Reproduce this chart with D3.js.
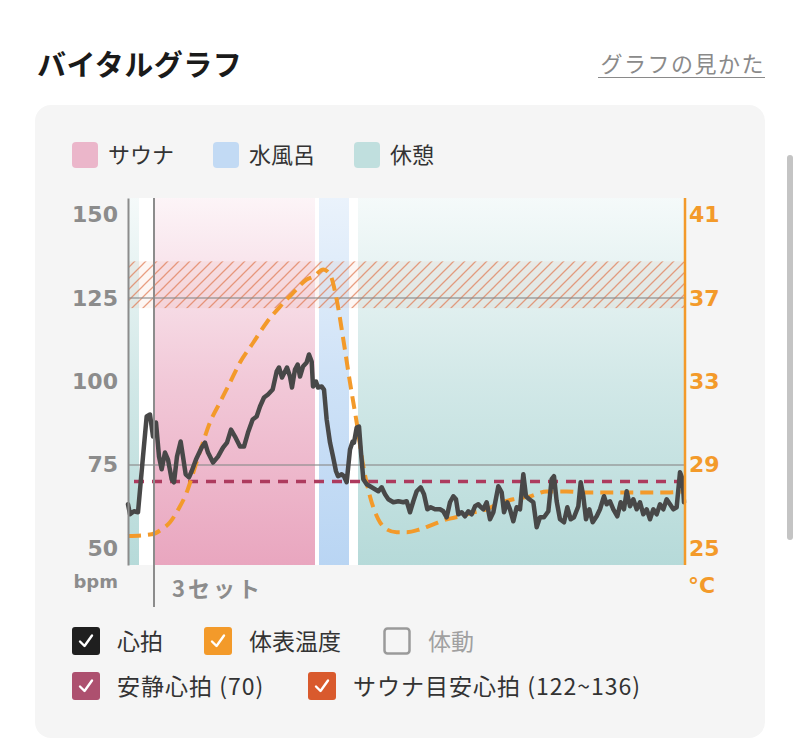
<!DOCTYPE html>
<html>
<head>
<meta charset="utf-8">
<script src="https://cdn.jsdelivr.net/npm/d3@7"></script>
<style>
  html, body { margin: 0; padding: 0; background: #fff; }
  svg text { font-family: "Noto Sans CJK JP", "Noto Sans", sans-serif; }
  svg text.num { font-family: "DejaVu Sans", sans-serif; }
</style>
</head>
<body>
<div id="chart"></div>
<script>
// phases (seconds from start)
var phaseNames = ['休憩', 'サウナ', '水風呂', '休憩'];
var phaseKeys = ['rest', 'sauna', 'water', 'rest'];
var phaseStart = [0, 78, 573, 690];
var phaseEnd = [33, 561, 663, 1671];
var setStart = 78;

// heart rate (bpm)
var hrTime = [0, 6, 18, 30, 45, 56, 66, 75, 84, 93, 101, 111, 120, 131, 138, 147, 158, 165, 173, 183,
  191, 204, 221, 231, 240, 255, 270, 285, 297, 309, 321, 336, 348, 360, 374, 386, 396, 408, 420, 434,
  446, 453, 462, 471, 477, 486, 492, 501, 509, 516, 525, 536, 543, 551, 555, 564, 570, 581, 588, 596,
  606, 615, 624, 630, 641, 648, 656, 666, 674, 678, 686, 693, 699, 706, 716, 731, 741, 751, 761, 771,
  781, 796, 811, 826, 836, 846, 856, 866, 878, 888, 898, 908, 921, 936, 946, 956, 966, 976, 984, 991,
  1001, 1011, 1021, 1031, 1041, 1051, 1056, 1066, 1076, 1086, 1096, 1111, 1121, 1128, 1138, 1146, 1156, 1166, 1176, 1186,
  1194, 1204, 1216, 1226, 1236, 1248, 1261, 1271, 1278, 1286, 1296, 1308, 1318, 1328, 1338, 1351, 1358, 1366, 1374, 1384,
  1394, 1406, 1416, 1428, 1436, 1446, 1456, 1468, 1478, 1488, 1496, 1506, 1516, 1526, 1536, 1546, 1556, 1566, 1576, 1586,
  1596, 1606, 1616, 1626, 1636, 1646, 1656, 1664, 1668];
var hrBpm = [63.2, 60.2, 61.1, 60.8, 77.5, 89.5, 90.1, 83.5, 87.7, 77.5, 73.7, 78.7, 76.6, 70.7, 69.8, 77.5, 82.0, 77.5, 72.2, 71.3,
  73.1, 76.6, 80.2, 81.7, 78.7, 75.7, 77.5, 80.2, 81.7, 85.6, 83.5, 80.5, 80.5, 84.7, 88.6, 89.5, 92.5, 95.2, 96.1, 97.6,
  103.0, 104.2, 101.2, 103.0, 104.2, 101.5, 98.2, 103.6, 105.1, 101.5, 104.5, 105.7, 108.1, 106.0, 98.5, 100.0, 98.2, 98.5, 97.6, 88.6,
  81.7, 77.5, 73.1, 71.6, 72.2, 71.6, 69.8, 79.6, 82.0, 81.7, 86.2, 86.5, 78.7, 70.7, 69.2, 68.3, 67.7, 67.1, 68.3, 66.2,
  64.7, 63.8, 64.1, 63.8, 64.1, 60.8, 64.1, 67.1, 68.3, 66.2, 61.7, 62.3, 61.7, 61.7, 61.1, 59.3, 63.8, 65.6, 64.7, 60.2,
  60.8, 59.6, 61.1, 60.2, 62.6, 63.2, 62.6, 61.7, 63.8, 58.7, 60.8, 68.6, 66.8, 60.8, 63.8, 61.7, 58.1, 62.3, 61.7, 72.2,
  65.6, 64.7, 63.8, 56.3, 59.3, 59.3, 61.1, 70.7, 71.6, 64.1, 58.7, 57.8, 62.3, 58.7, 59.3, 62.6, 69.8, 65.6, 58.7, 61.7,
  57.8, 59.6, 61.7, 65.6, 63.2, 64.1, 61.7, 59.6, 63.8, 61.7, 67.1, 62.6, 64.7, 61.7, 63.8, 60.2, 61.7, 58.7, 61.7, 60.2,
  63.2, 61.7, 64.7, 63.2, 61.7, 62.3, 72.8, 70.7, 63.8];

// skin temperature (°C)
var tempTime = [0, 71, 101, 126, 151, 176, 196, 221, 246, 276, 306, 336, 376, 416, 456, 496, 536, 556, 586, 606,
  626, 646, 666, 686, 706, 726, 751, 776, 806, 836, 876, 916, 956, 996, 1036, 1076, 1106, 1156, 1206, 1256,
  1316, 1376, 1436, 1496, 1556, 1616, 1668];
var tempVal = [25.59, 25.67, 25.91, 26.25, 26.87, 27.68, 28.64, 29.89, 31.04, 32.0, 32.95, 33.91, 34.87, 35.83, 36.59, 37.26, 37.89, 38.03, 38.37, 38.13,
  36.93, 35.01, 32.95, 31.04, 28.93, 27.49, 26.39, 25.91, 25.77, 25.77, 25.91, 26.15, 26.39, 26.53, 26.72, 26.87, 27.11, 27.35, 27.49, 27.73,
  27.73, 27.68, 27.68, 27.68, 27.68, 27.68, 27.73];

var restingHr = 70;
var targetLow = 122, targetHigh = 136;
var hrTicks = [50, 75, 100, 125, 150];
var hrGrid = [75, 125];
var tempTicks = [25, 29, 33, 37, 41];

var phaseLegend = ['サウナ', '水風呂', '休憩'];
var seriesLegend1 = ['心拍', '体表温度', '体動'];
var seriesLegend2 = ['安静心拍 (70)', 'サウナ目安心拍 (122~136)'];

var colors = {
  sauna: '#e9a6bf', water: '#b9d5f3', rest: '#b6dad9',
  hr: '#484848', temp: '#f39a2a', resting: '#ad3b5e', target: '#e07a52',
  axis: '#8c8c8c'
};
var fadeTop = { sauna: 0.12, water: 0.3, rest: 0.14 };

var W = 800, H = 755;
var svg = d3.select('#chart').append('svg')
  .attr('width', W).attr('height', H);

var defs = svg.append('defs');

// header
svg.append('text').attr('x', 37).attr('y', 76)
  .attr('font-size', 29).attr('font-weight', 700).attr('fill', '#1a1a1a')
  .attr('letter-spacing', 0.5)
  .text('バイタルグラフ');
svg.append('text').attr('x', 765).attr('y', 72).attr('text-anchor', 'end')
  .attr('font-size', 22).attr('fill', '#8a8a8a').attr('letter-spacing', 1.5)
  .text('グラフの見かた');
svg.append('line').attr('x1', 598).attr('x2', 765).attr('y1', 77.5).attr('y2', 77.5)
  .attr('stroke', '#8a8a8a').attr('stroke-width', 1.2);

// card
svg.append('rect').attr('x', 35).attr('y', 105).attr('width', 730).attr('height', 633)
  .attr('rx', 16).attr('fill', '#f5f5f5');

// scrollbar
svg.append('rect').attr('x', 787).attr('y', 155).attr('width', 6).attr('height', 385)
  .attr('rx', 3).attr('fill', '#c4c4c4');

// phase legend
var pl = svg.append('g');
phaseLegend.forEach(function(name, i) {
  var key = ['sauna', 'water', 'rest'][i];
  var gx = 72 + i * 141;
  pl.append('rect').attr('x', gx).attr('y', 142).attr('width', 26).attr('height', 26)
    .attr('rx', 4).attr('fill', colors[key]).attr('opacity', key === 'sauna' ? 0.8 : 0.85);
  pl.append('text').attr('x', gx + 36).attr('y', 163)
    .attr('font-size', 22).attr('fill', '#333').text(name);
});

// scales
var x = d3.scaleLinear().domain([0, 1671]).range([128, 685]);
var yHr = d3.scaleLinear().domain([45, 155]).range([565, 198]);
var yT = d3.scaleLinear().domain([25, 41]).range([yHr(50), yHr(150)]);

// plot background
svg.append('rect').attr('x', x(0)).attr('y', yHr(155))
  .attr('width', x(1671) - x(0)).attr('height', yHr(45) - yHr(155))
  .attr('fill', '#ffffff');

// gradients for phases
['sauna', 'water', 'rest'].forEach(function(k) {
  var g = defs.append('linearGradient').attr('id', 'grad-' + k)
    .attr('gradientUnits', 'userSpaceOnUse')
    .attr('x1', 0).attr('x2', 0).attr('y1', yHr(45)).attr('y2', yHr(155));
  g.append('stop').attr('offset', 0).attr('stop-color', colors[k]).attr('stop-opacity', 1);
  g.append('stop').attr('offset', 0.5).attr('stop-color', colors[k]).attr('stop-opacity', (1 + fadeTop[k]) / 2 + 0.05);
  g.append('stop').attr('offset', 1).attr('stop-color', colors[k]).attr('stop-opacity', fadeTop[k]);
});

svg.append('g').selectAll('rect')
  .data(phaseKeys)
  .enter().append('rect')
  .attr('x', function(d, i) { return x(phaseStart[i]); })
  .attr('width', function(d, i) { return x(phaseEnd[i]) - x(phaseStart[i]); })
  .attr('y', yHr(155))
  .attr('height', yHr(45) - yHr(155))
  .attr('fill', function(d) { return 'url(#grad-' + d + ')'; });

// target zone hatch
var pat = defs.append('pattern').attr('id', 'hatch')
  .attr('patternUnits', 'userSpaceOnUse').attr('width', 11).attr('height', 11);
pat.append('path').attr('d', 'M-1,12 L12,-1 M-3,3 L3,-3 M8,14 L14,8')
  .attr('stroke', colors.target).attr('stroke-width', 1.3).attr('stroke-opacity', 0.7);
svg.append('rect').attr('x', x(0)).attr('width', x(1671) - x(0))
  .attr('y', yHr(targetHigh)).attr('height', yHr(targetLow) - yHr(targetHigh))
  .attr('fill', colors.target).attr('fill-opacity', 0.07);
svg.append('rect').attr('x', x(0)).attr('width', x(1671) - x(0))
  .attr('y', yHr(targetHigh)).attr('height', yHr(targetLow) - yHr(targetHigh))
  .attr('fill', 'url(#hatch)');

// grid lines
svg.append('g').selectAll('line').data(hrGrid).enter().append('line')
  .attr('x1', x(0)).attr('x2', x(1671))
  .attr('y1', function(d) { return yHr(d); }).attr('y2', function(d) { return yHr(d); })
  .attr('stroke', '#8f8f8f').attr('stroke-width', 1.5).attr('stroke-opacity', 0.8);

// resting hr
svg.append('line').attr('x1', x(0) + 6).attr('x2', x(1671))
  .attr('y1', yHr(restingHr)).attr('y2', yHr(restingHr))
  .attr('stroke', colors.resting).attr('stroke-width', 3.5).attr('stroke-dasharray', '10,8');

// temperature line
var tempData = tempTime.map(function(t, i) { return { t: t, v: tempVal[i] }; });
svg.append('path').datum(tempData)
  .attr('fill', 'none').attr('stroke', colors.temp).attr('stroke-width', 4)
  .attr('stroke-dasharray', '13,7')
  .attr('d', d3.line().curve(d3.curveMonotoneX)
    .x(function(d) { return x(d.t); }).y(function(d) { return yT(d.v); }));

// heart rate line
var hrData = hrTime.map(function(t, i) { return { t: t, v: hrBpm[i] }; });
svg.append('path').datum(hrData)
  .attr('fill', 'none').attr('stroke', colors.hr).attr('stroke-width', 4.5)
  .attr('stroke-linejoin', 'round').attr('stroke-linecap', 'round')
  .attr('d', d3.line()
    .x(function(d) { return x(d.t); }).y(function(d) { return yHr(d.v); }));

// left axis
var yAxisL = d3.axisLeft(yHr).tickValues(hrTicks).tickSize(0).tickPadding(10);
svg.append('g').attr('transform', 'translate(' + x(0) + ',0)')
  .call(yAxisL)
  .call(function(g) {
    g.select('.domain').attr('stroke', colors.axis).attr('stroke-width', 2);
    g.selectAll('.tick text').classed('num', true).attr('fill', '#8c8c8c')
      .attr('font-size', 22).attr('font-weight', 700);
  });
svg.append('text').attr('class', 'num').attr('x', 118).attr('y', 588).attr('text-anchor', 'end')
  .attr('font-size', 18).attr('font-weight', 700).attr('fill', '#8c8c8c')
  .text('bpm');

// right axis
var yAxisR = d3.axisRight(yT).tickValues(tempTicks).tickSize(0).tickPadding(4);
svg.append('g').attr('transform', 'translate(' + x(1671) + ',0)')
  .call(yAxisR)
  .call(function(g) {
    g.select('.domain').attr('stroke', colors.temp).attr('stroke-width', 2.5)
      .attr('d', 'M0,' + yHr(155) + 'V' + yHr(45));
    g.selectAll('.tick text').classed('num', true).attr('fill', colors.temp)
      .attr('font-size', 22).attr('font-weight', 700);
  });
svg.append('text').attr('class', 'num').attr('x', 688).attr('y', 593)
  .attr('font-size', 22).attr('font-weight', 700).attr('fill', colors.temp)
  .text('°C');

// set marker
svg.append('line').attr('x1', x(setStart)).attr('x2', x(setStart))
  .attr('y1', yHr(155)).attr('y2', 607)
  .attr('stroke', colors.axis).attr('stroke-width', 2);
svg.append('text').attr('x', x(setStart) + 18).attr('y', 597)
  .attr('font-size', 22).attr('font-weight', 700).attr('fill', '#8c8c8c')
  .attr('letter-spacing', 3).text('3セット');

// series legend
var checkPath = 'M8,14.5 L12.5,19 L20,8.5';
function checkbox(g, cx, cy, fill, checked) {
  var b = g.append('g').attr('transform', 'translate(' + cx + ',' + cy + ')');
  if (checked) {
    b.append('rect').attr('width', 28).attr('height', 28).attr('rx', 3).attr('fill', fill);
    b.append('path').attr('d', checkPath).attr('fill', 'none').attr('stroke', '#fff')
      .attr('stroke-width', 2.4).attr('stroke-linecap', 'round').attr('stroke-linejoin', 'round');
  } else {
    b.append('rect').attr('x', 1.5).attr('y', 1.5).attr('width', 25).attr('height', 25)
      .attr('rx', 3).attr('fill', 'none').attr('stroke', '#9a9a9a').attr('stroke-width', 2.5);
  }
}
var lg = svg.append('g');
var row1X = [72, 204, 383];
var row1Fill = ['#1f1f1f', '#f39a2a', null];
seriesLegend1.forEach(function(name, i) {
  checkbox(lg, row1X[i], 627, row1Fill[i], row1Fill[i] !== null);
  lg.append('text').attr('x', row1X[i] + 45).attr('y', 650)
    .attr('font-size', 23).attr('fill', row1Fill[i] ? '#333' : '#a0a0a0').text(name);
});
var row2X = [72, 308];
var row2Fill = ['#ad506f', '#d95a2d'];
seriesLegend2.forEach(function(name, i) {
  checkbox(lg, row2X[i], 672, row2Fill[i], true);
  lg.append('text').attr('x', row2X[i] + 45).attr('y', 695)
    .attr('font-size', 23).attr('letter-spacing', 1).attr('fill', '#333').text(name);
});
</script>
</body>
</html>
